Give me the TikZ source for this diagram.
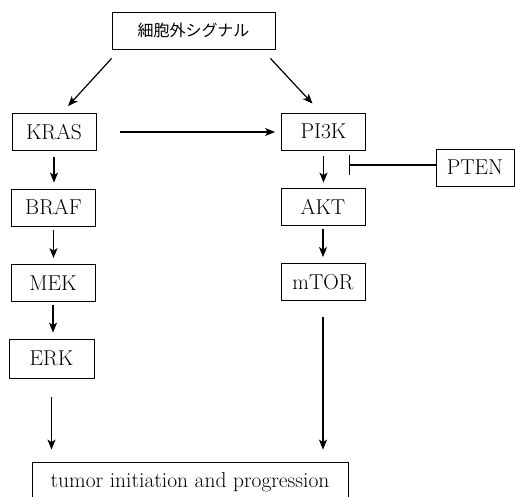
\documentclass[tikz,border=0pt]{standalone}
\usepackage{fontspec}
\newfontfamily\cjk{Noto Sans CJK JP}
\usetikzlibrary{arrows.meta,calc}
\begin{document}
\begin{tikzpicture}[x=1pt,y=-1pt,
  box/.style={draw,line width=0.8pt,minimum width=84pt,minimum height=37pt,inner sep=0pt,
    font=\fontsize{21.5}{24}\selectfont},
  arr/.style={line width=1.2pt,-{Stealth[length=10pt,width=8pt,inset=2.5pt]}},
  inh/.style={line width=1.2pt,-{Bar[width=20pt,line width=1.2pt]}}]
\clip (0,0) rectangle (515,497);
\fill[white] (0,0) rectangle (515,497);
% nodes
\node[box,minimum width=163pt] (top) at (193.5,30.5) {\cjk\fontsize{16}{19}\selectfont 細胞外シグナル};
\node[box] (kras) at (54,132) {KRAS};
\node[box] (pi3k) at (323.5,131.5) {PI3K};
\node[box,minimum width=78pt] (pten) at (475,167.5) {PTEN};
\node[box] (braf) at (53.5,207.5) {BRAF};
\node[box] (akt) at (323,206.5) {AKT};
\node[box] (mek) at (53,283) {MEK};
\node[box] (mtor) at (323,282) {mTOR};
\node[box,minimum width=85pt,minimum height=39pt] (erk) at (51.5,358.5) {ERK};
\node[box,minimum width=316pt,minimum height=40pt] (tumor) at (190,482) {tumor initiation and progression};
% connectors
\draw[arr] ($(top.south west)+(0,9)$) -- ($(kras.north)+(14,-7)$);
\draw[arr] ($(top.south east)+(-5,9)$) -- ($(pi3k.north)+(-11,-9)$);
\draw[arr,shorten <=24pt,shorten >=6pt] (kras.east) -- (kras.east -| pi3k.west);
\draw[arr,shorten <=6pt,shorten >=6pt] (kras.south) -- (kras.south |- braf.north);
\draw[arr,shorten <=6pt,shorten >=5pt] (pi3k.south) -- (pi3k.south |- akt.north);
\draw[arr,shorten <=4pt,shorten >=6pt] (braf.south) -- (braf.south |- mek.north);
\draw[arr,shorten <=4pt,shorten >=6pt] (akt.south) -- (akt.south |- mtor.north);
\draw[arr,shorten <=3pt,shorten >=6pt] (mek.south) -- (mek.south |- erk.north);
\draw[arr,shorten <=19pt,shorten >=12pt] (erk.south) -- (erk.south |- tumor.north);
\draw[arr,shorten <=16pt,shorten >=12pt] (mtor.south) -- (mtor.south |- tumor.north);
\coordinate (bar) at (349,165);
\draw[inh] (pten.west |- bar) -- (bar);
\end{tikzpicture}
\end{document}
